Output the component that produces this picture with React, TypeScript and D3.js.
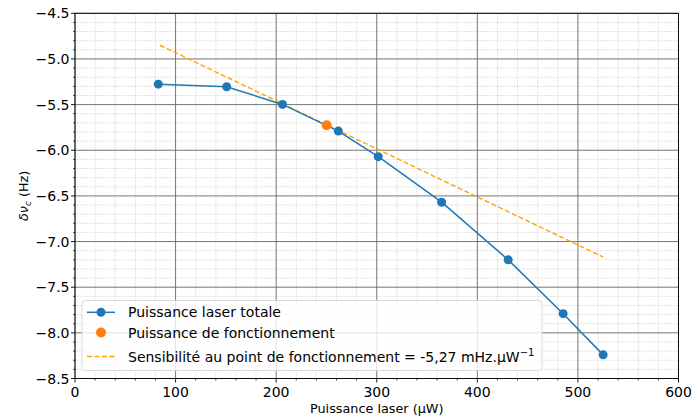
import React from "react";
import * as d3 from "d3";

const powerTotal = [82.8, 150.8, 206.3, 261.8, 301.5, 364.5, 430.7, 485.3, 525.1];
const shiftTotal = [-5.276, -5.305, -5.498, -5.79, -6.07, -6.569, -7.2, -7.79, -8.241];
const opPower = [250.2];
const opShift = [-5.727];
const sensX = [84.5, 525.1];
const sensY = [-4.85, -7.17];
const xTicks = [0, 100, 200, 300, 400, 500, 600];
const yTicks = [-4.5, -5.0, -5.5, -6.0, -6.5, -7.0, -7.5, -8.0, -8.5];
const legendLabels = [
  "Puissance laser totale",
  "Puissance de fonctionnement",
  "Sensibilité au point de fonctionnement = -5,27 mHz.µW",
];

const W = 692, H = 416;
const L = 75, R = 678.5, T = 13.3, B = 378.5;
const FONT = "DejaVu Sans, sans-serif";
const TICK_FS = 14;
const LEG_FS = 14;
const LAB_FS = 12.8;

export default function App() {
  const x = d3.scaleLinear().domain([0, 600]).range([L, R]);
  const y = d3.scaleLinear().domain([-4.5, -8.5]).range([T, B]);
  const xMinor = d3.range(0, 601, 20).filter((v) => v % 100 !== 0);
  const yMinor = d3.range(-45, -86, -1).map((v) => v / 10).filter((v) => Math.round(v * 10) % 5 !== 0);
  const line = d3.line<number>().x((d, i) => x(powerTotal[i])).y((d) => y(d));
  const sensLine = d3.line<number>().x((d, i) => x(sensX[i])).y((d) => y(d));
  const fmt = (v: number) => (v < 0 ? "\u2212" : "") + Math.abs(v).toFixed(1);

  return (
    <svg width={W} height={H} style={{ position: "absolute", left: 0, top: 0, background: "#fff" }} fontFamily={FONT}>
      <rect x={0} y={0} width={W} height={H} fill="#fff" />
      {/* minor grid */}
      {xMinor.map((v) => (
        <line key={"xm" + v} x1={x(v)} x2={x(v)} y1={T} y2={B} stroke="#e0e0e0" strokeWidth={1} strokeDasharray="1.5,0.8" />
      ))}
      {yMinor.map((v) => (
        <line key={"ym" + v} x1={L} x2={R} y1={y(v)} y2={y(v)} stroke="#e0e0e0" strokeWidth={1} strokeDasharray="1.5,0.8" />
      ))}
      {/* major grid */}
      {xTicks.map((v) => (
        <line key={"xg" + v} x1={x(v)} x2={x(v)} y1={T} y2={B} stroke="#666" strokeWidth={0.9} />
      ))}
      {yTicks.map((v) => (
        <line key={"yg" + v} x1={L} x2={R} y1={y(v)} y2={y(v)} stroke="#666" strokeWidth={0.9} />
      ))}
      {/* series */}
      <path d={sensLine(sensY) || ""} fill="none" stroke="#FFA500" strokeWidth={1.4} strokeDasharray="5,2.5" />
      <path d={line(shiftTotal) || ""} fill="none" stroke="#1f77b4" strokeWidth={1.5} />
      {shiftTotal.map((v, i) => (
        <circle key={"p" + i} cx={x(powerTotal[i])} cy={y(v)} r={4.5} fill="#1f77b4" />
      ))}
      {opShift.map((v, i) => (
        <circle key={"o" + i} cx={x(opPower[i])} cy={y(v)} r={5} fill="#ff7f0e" />
      ))}
      {/* frame */}
      <rect x={L} y={T} width={R - L} height={B - T} fill="none" stroke="#000" strokeWidth={0.9} />
      {/* ticks */}
      {xTicks.map((v) => (
        <g key={"xt" + v}>
          <line x1={x(v)} x2={x(v)} y1={B} y2={B + 4} stroke="#000" strokeWidth={0.9} />
          <text x={x(v)} y={B + 18.5} textAnchor="middle" fontSize={TICK_FS} fill="#000">{v}</text>
        </g>
      ))}
      {xMinor.map((v) => (
        <line key={"xmt" + v} x1={x(v)} x2={x(v)} y1={B} y2={B + 2} stroke="#000" strokeWidth={0.7} />
      ))}
      {yTicks.map((v) => (
        <g key={"yt" + v}>
          <line x1={L - 4} x2={L} y1={y(v)} y2={y(v)} stroke="#000" strokeWidth={0.9} />
          <text x={L - 5.5} y={y(v) + 5} textAnchor="end" fontSize={TICK_FS} fill="#000">{fmt(v)}</text>
        </g>
      ))}
      {yMinor.map((v) => (
        <line key={"ymt" + v} x1={L - 2} x2={L} y1={y(v)} y2={y(v)} stroke="#000" strokeWidth={0.7} />
      ))}
      {/* axis labels */}
      <text x={(L + R) / 2} y={413} textAnchor="middle" fontSize={LAB_FS} fill="#000">Puissance laser (µW)</text>
      <text transform={`translate(27.5,${(T + B) / 2}) rotate(-90)`} textAnchor="middle" fontSize={LAB_FS} fill="#000">
        <tspan fontStyle="italic">δν</tspan>
        <tspan fontStyle="italic" fontSize={9} dy={3}>c</tspan>
        <tspan dy={-3}> (Hz)</tspan>
      </text>
      {/* legend */}
      <rect x={82} y={300.5} width={460} height={70} rx={3} fill="#fff" fillOpacity={0.8} stroke="#d6d6d6" strokeWidth={0.9} />
      <line x1={87} x2={115} y1={312.3} y2={312.3} stroke="#1f77b4" strokeWidth={1.5} />
      <circle cx={101} cy={312.3} r={4.5} fill="#1f77b4" />
      <circle cx={101} cy={332.5} r={5} fill="#ff7f0e" />
      <line x1={87} x2={115} y1={356.5} y2={356.5} stroke="#FFA500" strokeWidth={1.4} strokeDasharray="5,2.5" />
      <text x={128} y={317.3} fontSize={LEG_FS} fill="#000">{legendLabels[0]}</text>
      <text x={128} y={337.5} fontSize={LEG_FS} fill="#000">{legendLabels[1]}</text>
      <text x={128} y={361.5} fontSize={LEG_FS} fill="#000">
        {legendLabels[2]}
        <tspan dy={-5.5} fontSize={10}>−1</tspan>
      </text>
    </svg>
  );
}
